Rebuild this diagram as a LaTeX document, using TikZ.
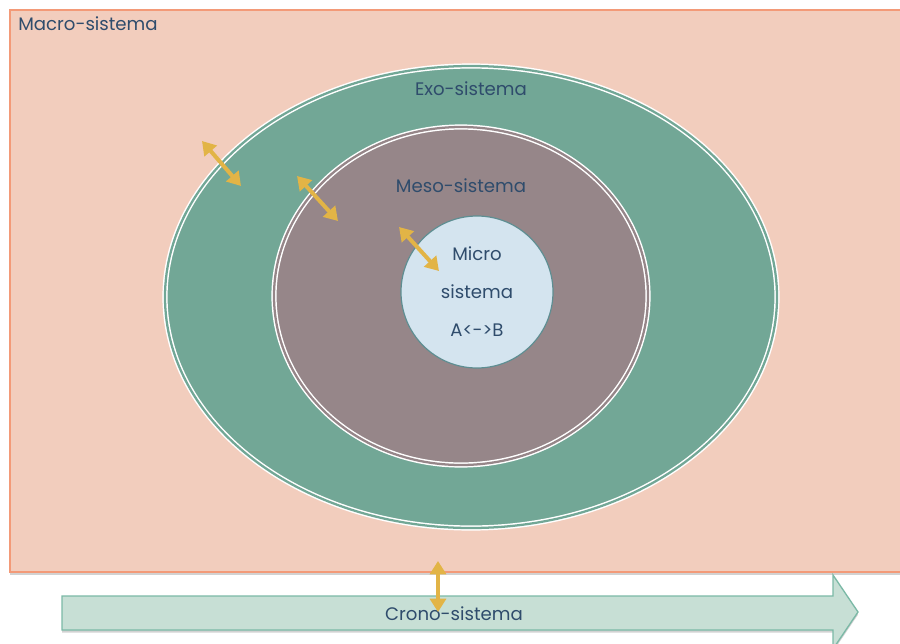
\documentclass[tikz,border=0pt]{standalone}
\usepackage{fontspec}
\setmainfont{Poppins}
\usetikzlibrary{arrows.meta,shadows}
\definecolor{macrofill}{HTML}{F2CDBD}
\definecolor{macroline}{HTML}{F39A78}
\definecolor{exofill}{HTML}{72A796}
\definecolor{mesofill}{HTML}{968689}
\definecolor{microfill}{HTML}{D4E4EF}
\definecolor{microline}{HTML}{5E8E92}
\definecolor{cronofill}{HTML}{C7DFD5}
\definecolor{cronoline}{HTML}{7BB9A6}
\definecolor{labeltext}{HTML}{2F4C6C}
\definecolor{gold}{HTML}{E2B446}
\tikzset{
  lbl/.style={text=labeltext, font=\fontsize{13.6}{15}\selectfont, inner sep=0pt},
  ring/.style={draw=white, line width=1.1pt, double distance=1.7pt},
  link/.style={draw=gold, line width=3pt, {Triangle[width=12pt,length=10pt]}-{Triangle[width=12pt,length=10pt]}},
}
\begin{document}
\begin{tikzpicture}[x=0.75pt,y=-0.75pt]
  \useasboundingbox (0,0) rectangle (900,643);
  \fill[white] (0,0) rectangle (900,643);

  % macro level
  \path[fill=macrofill, draw=macroline, line width=1.4pt,
        drop shadow={shadow xshift=0pt, shadow yshift=-2.5pt, opacity=0.35}]
    (10,10) rectangle (903,572);
  \node[lbl, anchor=north west] (macro) at (18,16) {Macro-sistema};

  % nested ellipses
  \path[fill=exofill] (471,297) ellipse [x radius=306, y radius=231];
  \path[ring, double=exofill] (471,297) ellipse [x radius=306, y radius=231];
  \node[lbl] (exo) at (471,89) {Exo-sistema};

  \path[fill=mesofill] (461,296) ellipse [x radius=187, y radius=169];
  \path[ring, double=mesofill] (461,296) ellipse [x radius=187, y radius=169];
  \node[lbl] (meso) at (461,186) {Meso-sistema};

  \node[circle, minimum size=152*0.75pt, fill=microfill, draw=microline, line width=0.9pt,
        align=center, text=labeltext, font=\fontsize{13.6}{28.5}\selectfont, inner sep=0pt]
    (micro) at (477,292) {Micro\\sistema\\A<->B};

  % crono arrow
  \path[fill=cronofill, draw=cronoline, line width=1pt,
        drop shadow={shadow xshift=0pt, shadow yshift=-2pt, opacity=0.35}]
    (62,596) -- (833,596) -- (833,575) -- (858,612) -- (833,649) -- (833,630) -- (62,630) -- cycle;
  \node[lbl] (crono) at (454,614) {Crono-sistema};

  % interactions between levels
  \coordinate (a1) at (202,141); \coordinate (b1) at (241,186);
  \coordinate (a2) at (297,176); \coordinate (b2) at (338,221);
  \coordinate (a3) at (399,227); \coordinate (b3) at (439,271);
  \coordinate (a4) at (438,561); \coordinate (b4) at (438,612);
  \draw[link] (a1) -- (b1);
  \draw[link] (a2) -- (b2);
  \draw[link] (a3) -- (b3);
  \draw[link, line width=2.4pt] (a4) -- (b4);
\end{tikzpicture}
\end{document}
